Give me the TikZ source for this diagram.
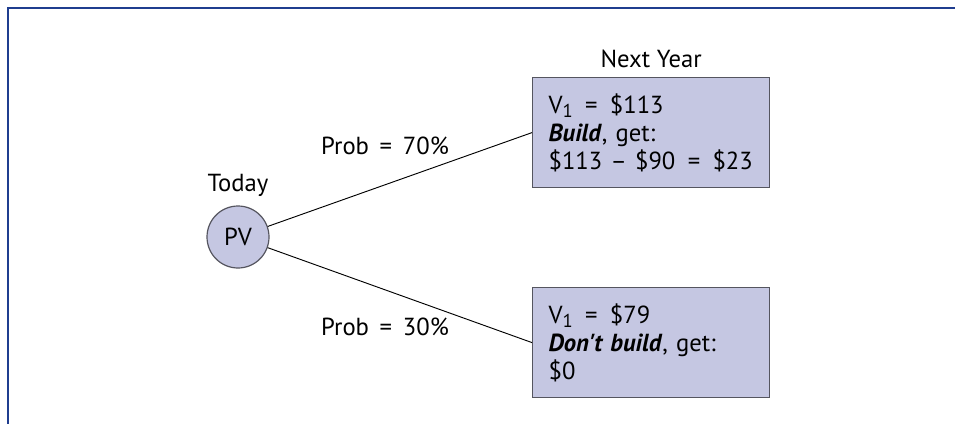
\documentclass[tikz,border=0pt]{standalone}
\usepackage{fontspec}
\setmainfont{PT Sans}[Ligatures=TeXOff]
\usetikzlibrary{positioning}
\definecolor{frameblue}{RGB}{31,61,143}
\definecolor{boxfill}{RGB}{197,199,226}
\definecolor{boxline}{RGB}{85,85,95}
\newcommand{\vone}{V\raisebox{-0.35ex}{\fontsize{14}{14}\selectfont 1}}

\begin{document}
\begin{tikzpicture}[x=0.75pt,y=-0.75pt,
  every node/.style={font=\fontsize{18.5}{21}\selectfont},
  outcome/.style={draw=boxline,fill=boxfill,line width=0.9pt,anchor=north west,
    minimum width=177.75pt,minimum height=82.5pt,text width=153.75pt,inner xsep=12pt,align=left},
  state/.style={circle,draw=boxline,fill=boxfill,line width=0.9pt,minimum size=46.5pt,inner sep=0pt}]
  \useasboundingbox (0,0) rectangle (955,424);
  \draw[frameblue,line width=1.7pt] (8,424) -- (8,8) -- (955,8);
      \node[state] (pv) at (238,237) {PV};
      \node[above=3pt of pv] (today) {Today};
      \node[outcome] (up) at (532,77) {\vone\ \,=\, \$113\\\textbf{\textit{Build}}, get:\\\$113 – \$90 \,=\, \$23};
      \node[outcome] (down) at (532,287) {\vone\ \,=\, \$79\\\textbf{\textit{Don't build}}, get:\\\$0};
      \node[above=3pt of up] (next) {Next Year};
      \node (p70) at (385,146) {Prob \,=\, 70\%};
      \node (p30) at (385,327) {Prob \,=\, 30\%};
  \draw[line width=0.7pt] (pv) -- (up.west);
      \draw[line width=0.7pt] (pv) -- (down.west);
\end{tikzpicture}
\end{document}
